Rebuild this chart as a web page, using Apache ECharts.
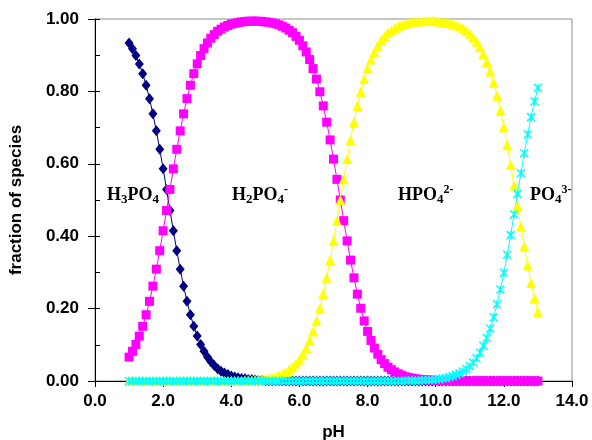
<!DOCTYPE html>
<html>
<head>
<meta charset="utf-8">
<script src="https://cdn.jsdelivr.net/npm/echarts@6/dist/echarts.min.js"></script>
<style>
  html, body { margin: 0; padding: 0; background: #fff; }
  #chart-panel { width: 592px; height: 440px; }
</style>
</head>
<body>
<div id="chart-panel"></div>
<script>
// pH values, 1.0 .. 13.0
var ph = [
  1.0, 1.1, 1.2, 1.3, 1.4, 1.5, 1.6, 1.7, 1.8, 1.9,
  2.0, 2.1, 2.2, 2.3, 2.4, 2.5, 2.6, 2.7, 2.8, 2.9,
  3.0, 3.1, 3.2, 3.3, 3.4, 3.5, 3.6, 3.7, 3.8, 3.9,
  4.0, 4.1, 4.2, 4.3, 4.4, 4.5, 4.6, 4.7, 4.8, 4.9,
  5.0, 5.1, 5.2, 5.3, 5.4, 5.5, 5.6, 5.7, 5.8, 5.9,
  6.0, 6.1, 6.2, 6.3, 6.4, 6.5, 6.6, 6.7, 6.8, 6.9,
  7.0, 7.1, 7.2, 7.3, 7.4, 7.5, 7.6, 7.7, 7.8, 7.9,
  8.0, 8.1, 8.2, 8.3, 8.4, 8.5, 8.6, 8.7, 8.8, 8.9,
  9.0, 9.1, 9.2, 9.3, 9.4, 9.5, 9.6, 9.7, 9.8, 9.9,
  10.0, 10.1, 10.2, 10.3, 10.4, 10.5, 10.6, 10.7, 10.8, 10.9,
  11.0, 11.1, 11.2, 11.3, 11.4, 11.5, 11.6, 11.7, 11.8, 11.9,
  12.0, 12.1, 12.2, 12.3, 12.4, 12.5, 12.6, 12.7, 12.8, 12.9,
  13.0
];

var h3po4 = [
  0.934, 0.918, 0.899, 0.876, 0.849, 0.817, 0.780, 0.738, 0.691, 0.640,
  0.586, 0.529, 0.471, 0.415, 0.360, 0.309, 0.262, 0.220, 0.183, 0.151,
  0.124, 0.101, 0.082, 0.066, 0.053, 0.043, 0.034, 0.027, 0.022, 0.018,
  0.014, 0.011, 0.009, 0.007, 0.006, 0.004, 0.004, 0.003, 0.002, 0.002,
  0.001, 0.001, 0.001, 0.001, 0.001, 0, 0, 0, 0, 0,
  0, 0, 0, 0, 0, 0, 0, 0, 0, 0,
  0, 0, 0, 0, 0, 0, 0, 0, 0, 0,
  0, 0, 0, 0, 0, 0, 0, 0, 0, 0,
  0, 0, 0, 0, 0, 0, 0, 0, 0, 0,
  0, 0, 0, 0, 0, 0, 0, 0, 0, 0,
  0, 0, 0, 0, 0, 0, 0, 0, 0, 0,
  0, 0, 0, 0, 0, 0, 0, 0, 0, 0,
  0
];

var h2po4 = [
  0.066, 0.082, 0.101, 0.124, 0.151, 0.183, 0.220, 0.262, 0.309, 0.360,
  0.415, 0.471, 0.529, 0.586, 0.640, 0.691, 0.738, 0.780, 0.817, 0.849,
  0.876, 0.899, 0.918, 0.934, 0.947, 0.957, 0.966, 0.972, 0.978, 0.982,
  0.986, 0.988, 0.990, 0.992, 0.993, 0.994, 0.994, 0.994, 0.994, 0.993,
  0.992, 0.991, 0.989, 0.987, 0.984, 0.980, 0.975, 0.969, 0.962, 0.952,
  0.941, 0.926, 0.909, 0.888, 0.863, 0.834, 0.799, 0.760, 0.715, 0.666,
  0.613, 0.557, 0.500, 0.443, 0.387, 0.334, 0.285, 0.240, 0.201, 0.166,
  0.137, 0.112, 0.091, 0.074, 0.059, 0.048, 0.038, 0.031, 0.025, 0.020,
  0.016, 0.012, 0.010, 0.008, 0.006, 0.005, 0.004, 0.003, 0.003, 0.002,
  0.002, 0.001, 0.001, 0.001, 0.001, 0, 0, 0, 0, 0,
  0, 0, 0, 0, 0, 0, 0, 0, 0, 0,
  0, 0, 0, 0, 0, 0, 0, 0, 0, 0,
  0
];

var hpo4 = [
  0, 0, 0, 0, 0, 0, 0, 0, 0, 0,
  0, 0, 0, 0, 0, 0, 0, 0, 0, 0,
  0, 0, 0, 0, 0, 0, 0, 0, 0, 0,
  0.001, 0.001, 0.001, 0.001, 0.002, 0.002, 0.002, 0.003, 0.004, 0.005,
  0.006, 0.008, 0.010, 0.012, 0.016, 0.020, 0.024, 0.031, 0.038, 0.048,
  0.059, 0.074, 0.091, 0.112, 0.137, 0.166, 0.201, 0.240, 0.285, 0.334,
  0.387, 0.443, 0.500, 0.557, 0.613, 0.666, 0.715, 0.760, 0.799, 0.834,
  0.863, 0.888, 0.909, 0.926, 0.941, 0.952, 0.962, 0.969, 0.975, 0.980,
  0.984, 0.987, 0.989, 0.991, 0.993, 0.994, 0.994, 0.995, 0.995, 0.995,
  0.994, 0.993, 0.992, 0.991, 0.989, 0.986, 0.983, 0.979, 0.974, 0.967,
  0.959, 0.949, 0.937, 0.922, 0.903, 0.881, 0.855, 0.824, 0.788, 0.747,
  0.701, 0.651, 0.597, 0.540, 0.483, 0.426, 0.371, 0.319, 0.271, 0.228,
  0.190
];

var po4 = [
  0, 0, 0, 0, 0, 0, 0, 0, 0, 0,
  0, 0, 0, 0, 0, 0, 0, 0, 0, 0,
  0, 0, 0, 0, 0, 0, 0, 0, 0, 0,
  0, 0, 0, 0, 0, 0, 0, 0, 0, 0,
  0, 0, 0, 0, 0, 0, 0, 0, 0, 0,
  0, 0, 0, 0, 0, 0, 0, 0, 0, 0,
  0, 0, 0, 0, 0, 0, 0, 0, 0, 0,
  0, 0, 0, 0, 0, 0, 0, 0, 0, 0,
  0, 0.001, 0.001, 0.001, 0.001, 0.001, 0.002, 0.002, 0.003, 0.003,
  0.004, 0.005, 0.007, 0.008, 0.011, 0.013, 0.017, 0.021, 0.026, 0.033,
  0.041, 0.051, 0.063, 0.078, 0.097, 0.119, 0.145, 0.176, 0.212, 0.253,
  0.299, 0.349, 0.403, 0.460, 0.517, 0.574, 0.629, 0.681, 0.729, 0.772,
  0.810
];

function pairs(arr) {
  return ph.map(function (x, i) { return [x, arr[i]]; });
}

var sansBold = { fontFamily: 'Liberation Sans', fontWeight: 'bold', color: '#000' };

// species labels (Times-like bold, with sub/superscripts)
var serif = 'Liberation Serif';
var rich = {
  m: { fontFamily: serif, fontWeight: 'bold', fontSize: 18, lineHeight: 22, fill: '#000' },
  s: { fontFamily: serif, fontWeight: 'bold', fontSize: 13, lineHeight: 12, verticalAlign: 'bottom', fill: '#000' },
  u: { fontFamily: serif, fontWeight: 'bold', fontSize: 12, lineHeight: 16, verticalAlign: 'top', fill: '#000' }
};
function speciesLabel(x, text) {
  return {
    type: 'text', x: x, y: 184, z: 100,
    style: { text: text, rich: rich, align: 'left', verticalAlign: 'top' }
  };
}

var chart = document.getElementById('chart-panel');
var myChart = echarts.init(chart);

var option = {
  animation: false,
  backgroundColor: '#fff',
  grid: {
    left: 95, right: 20, top: 19, bottom: 59,
    containLabel: false, outerBoundsMode: 'none',
    show: true, borderColor: '#8c8c8c', borderWidth: 1
  },
  xAxis: {
    type: 'value', min: 0, max: 14, interval: 2,
    name: 'pH', nameLocation: 'middle', nameGap: 43,
    nameTextStyle: Object.assign({ fontSize: 17 }, sansBold),
    axisLine: { onZero: false, lineStyle: { color: '#000', width: 1 } },
    axisTick: { inside: false, length: 6, lineStyle: { color: '#000' } },
    axisLabel: Object.assign({ fontSize: 17, margin: 12, formatter: function (v) { return v.toFixed(1); } }, sansBold),
    splitLine: { show: false }
  },
  yAxis: [
    {
      type: 'value', min: 0, max: 1, interval: 0.2,
      name: 'fraction of species', nameLocation: 'middle', nameGap: 70,
      nameTextStyle: Object.assign({ fontSize: 17 }, sansBold),
      axisLine: { show: true, lineStyle: { color: '#000', width: 1 } },
      axisTick: { inside: false, length: 7, lineStyle: { color: '#000' } },
      axisLabel: Object.assign({ fontSize: 17, margin: 16, formatter: function (v) { return v.toFixed(2); } }, sansBold),
      splitLine: { show: false }
    },
    {
      // minor ticks on the inside
      type: 'value', min: 0, max: 1, interval: 0.1, position: 'left',
      axisLine: { show: false },
      axisTick: { inside: true, length: 5, lineStyle: { color: '#000' } },
      axisLabel: { show: false },
      splitLine: { show: false }
    }
  ],
  series: [
    {
      name: 'H3PO4', type: 'line', data: pairs(h3po4),
      symbol: 'diamond', symbolSize: [9, 11],
      lineStyle: { color: '#000080', width: 1 },
      itemStyle: { color: '#000080' }
    },
    {
      name: 'H2PO4-', type: 'line', data: pairs(h2po4),
      symbol: 'rect', symbolSize: 9,
      lineStyle: { color: '#ff00ff', width: 1 },
      itemStyle: { color: '#ff00ff' }
    },
    {
      name: 'HPO4 2-', type: 'line', data: pairs(hpo4),
      symbol: 'triangle', symbolSize: 10,
      lineStyle: { color: '#ffff00', width: 1 },
      itemStyle: { color: '#ffff00' }
    },
    {
      name: 'PO4 3-', type: 'line', data: pairs(po4),
      symbol: 'path://M0,0L10,10M10,0L0,10M5,0L5,10', symbolSize: 8,
      lineStyle: { color: '#00ffff', width: 1 },
      itemStyle: { color: '#00ffff', borderColor: '#00ffff', borderWidth: 1.5 }
    }
  ],
  graphic: [
    speciesLabel(107, '{m|H}{s|3}{m|PO}{s|4}'),
    speciesLabel(232, '{m|H}{s|2}{m|PO}{s|4}{u|-}'),
    speciesLabel(398, '{m|HPO}{s|4}{u|2-}'),
    speciesLabel(530, '{m|PO}{s|4}{u|3-}')
  ]
};

myChart.setOption(option);
</script>
</body>
</html>
